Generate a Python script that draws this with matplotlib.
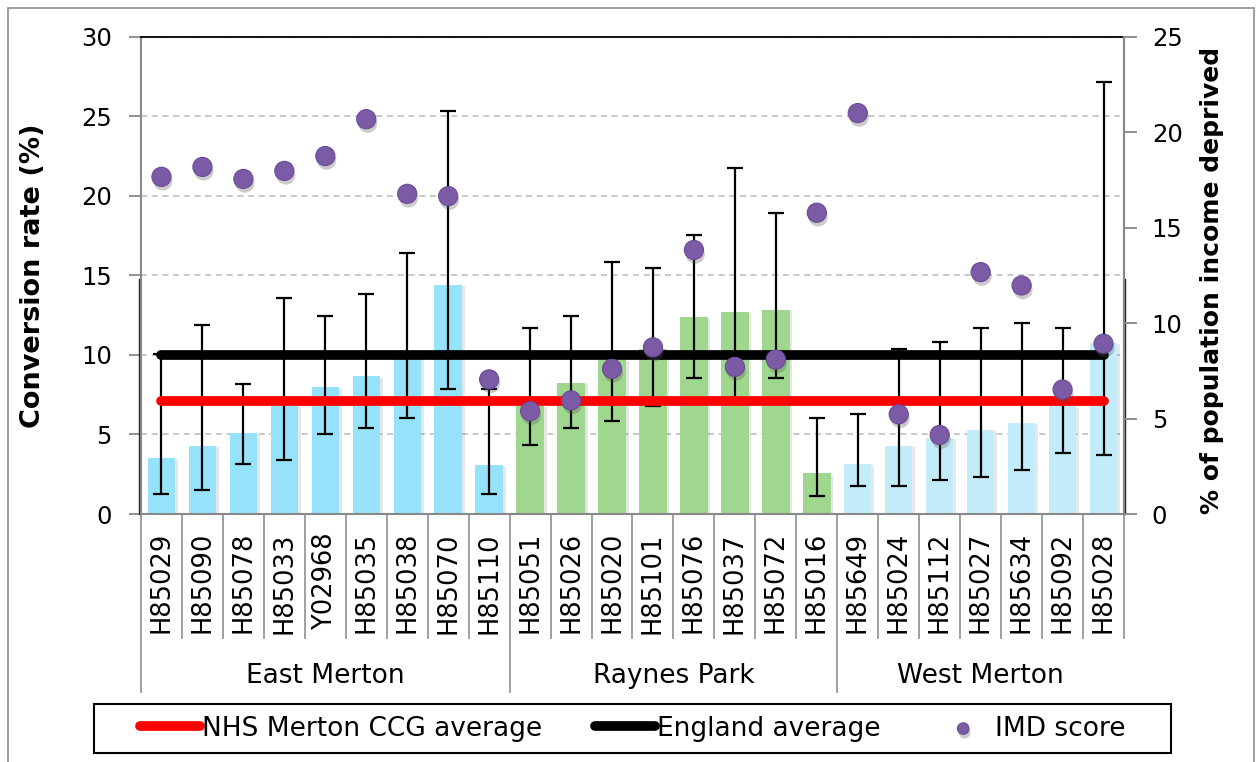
import numpy as np
import matplotlib
matplotlib.use("Agg")
import matplotlib.pyplot as plt
import matplotlib.patheffects as pe
from matplotlib.patches import Rectangle
from matplotlib.transforms import blended_transform_factory

# Practices grouped by locality
practices = ['H85029', 'H85090', 'H85078', 'H85033', 'Y02968', 'H85035', 'H85038', 'H85070', 'H85110',
             'H85051', 'H85026', 'H85020', 'H85101', 'H85076', 'H85037', 'H85072', 'H85016',
             'H85649', 'H85024', 'H85112', 'H85027', 'H85634', 'H85092', 'H85028']
localities = ['East Merton', 'Raynes Park', 'West Merton']
locality_sizes = [9, 8, 7]
locality_colors = ['#97E2FB', '#A0D78E', '#C2ECFA']

# Conversion rate (%) with confidence limits
conversion = [3.55, 4.28, 5.07, 6.8, 7.97, 8.66, 9.8, 14.4, 3.07,
              6.8, 8.25, 9.7, 10.37, 12.36, 12.67, 12.84, 2.57,
              3.17, 4.28, 4.8, 5.28, 5.74, 6.78, 10.75]
ci_low = [1.25, 1.52, 3.13, 3.4, 5.01, 5.43, 6.03, 7.83, 1.25,
          4.32, 5.43, 5.84, 6.78, 8.52, 7.3, 8.56, 1.15,
          1.73, 1.73, 2.13, 2.34, 2.76, 3.82, 3.72]
ci_high = [10.05, 11.9, 8.2, 13.6, 12.42, 13.82, 16.43, 25.32, 7.83,
           11.69, 12.42, 15.86, 15.45, 17.53, 21.77, 18.89, 6.03,
           6.3, 10.37, 10.79, 11.69, 12.0, 11.69, 27.14]

# % of population income deprived (right axis)
imd = [17.66, 18.18, 17.55, 17.97, 18.75, 20.68, 16.77, 16.65, 7.05,
       5.39, 5.95, 7.6, 8.73, 13.83, 7.71, 8.09, 15.78,
       21.0, 5.22, 4.14, 12.67, 11.97, 6.52, 8.92]

ccg_avg = 7.1
england_avg = 10.0

n = len(practices)
x = np.arange(n)
bar_colors = []
for c, size in zip(locality_colors, locality_sizes):
    bar_colors += [c] * size

conv = np.array(conversion)
yerr = [conv - np.array(ci_low), np.array(ci_high) - conv]

fig = plt.figure(figsize=(12.58, 7.62), dpi=100)
ax = fig.add_axes([141/1258, 1 - 514/762, 983/1258, 477.3/762])

ax.yaxis.grid(True, linestyle=(0, (4, 3)), color='#BBBBBB', linewidth=1.1)
ax.set_axisbelow(True)

bars = ax.bar(x, conversion, width=0.67, color=bar_colors, zorder=2)
for b in bars:
    b.set_path_effects([pe.SimplePatchShadow(offset=(2, -1), alpha=0.12), pe.Normal()])

ax.errorbar(x, conversion, yerr=yerr, fmt='none', ecolor='black', elinewidth=1.6,
            capsize=6, capthick=1.6, zorder=3)

l_ccg, = ax.plot([x[0], x[-1]], [ccg_avg, ccg_avg], color='#FF0000', linewidth=7,
                 solid_capstyle='round', zorder=4, label='NHS Merton CCG average')
l_eng, = ax.plot([x[0], x[-1]], [england_avg, england_avg], color='black', linewidth=7,
                 solid_capstyle='round', zorder=4, label='England average')

ax.set_xlim(-0.5, n - 0.5)
ax.set_ylim(0, 30)
ax.set_yticks(np.arange(0, 31, 5))
ax.set_xticks(x)
ax.set_xticklabels(practices, rotation=90, fontsize=18.5)
ax.tick_params(axis='x', length=0, pad=13)
ax.tick_params(axis='y', labelsize=17.5, length=9, color='#888888', width=1.3, pad=12)
for s in ['left', 'bottom', 'right']:
    ax.spines[s].set_color('#888888')
    ax.spines[s].set_linewidth(1.5)
ax.spines['top'].set_color('black')
ax.spines['top'].set_linewidth(1.3)
ax.set_ylabel('Conversion rate (%)', fontsize=19.5, fontweight='bold')
ax.yaxis.set_label_coords(-0.097, 0.5)

# darker inner axis segments of the bar plot area
edge = blended_transform_factory(ax.transAxes, ax.transData)
ax.plot([-1.6/983, -1.6/983], [0, 14.8], transform=edge, color='#222222', linewidth=1.0,
        clip_on=False, zorder=1)
ax.plot([1 + 1.2/983, 1 + 1.2/983], [0, 14.8], transform=edge, color='#222222', linewidth=1.0,
        clip_on=False, zorder=1)

# IMD score on the secondary axis
ax2 = ax.twinx()
dots = ax2.scatter(x, imd, s=190, color='#7B5AA6', edgecolors='#6B4A96', linewidths=0.8,
                   zorder=5, label='IMD score')
dots.set_path_effects([pe.SimplePatchShadow(offset=(1, -3), shadow_rgbFace='#555555', alpha=0.3),
                       pe.Normal()])
ax2.set_ylim(0, 25)
ax2.set_yticks(np.arange(0, 26, 5))
ax2.tick_params(axis='y', labelsize=17.5, length=9, color='#888888', width=1.3, pad=11)
for s in ['left', 'bottom', 'top']:
    ax2.spines[s].set_visible(False)
ax2.spines['right'].set_color('#888888')
ax2.spines['right'].set_linewidth(1.5)
ax2.set_ylabel('% of population income deprived', fontsize=18, fontweight='bold')
ax2.yaxis.set_label_coords(1.0773, 0.49)

# category separators and locality labels below the axis
trans = blended_transform_factory(ax.transData, ax.transAxes)
bounds = np.arange(n + 1) - 0.5
for b in bounds:
    ax.plot([b, b], [0, -0.26], transform=trans, color='#999999', linewidth=1.3,
            clip_on=False, zorder=1)
start = 0
for name, size in zip(localities, locality_sizes):
    ax.plot([start - 0.5, start - 0.5], [-0.26, -0.372], transform=trans, color='#999999',
            linewidth=1.3, clip_on=False)
    ax.text(start + (size - 1) / 2, -0.34, name, transform=trans, ha='center', va='center',
            fontsize=19)
    start += size

# legend in its own box
fig.patches.append(Rectangle((94/1258, 1 - 753/762), 1077/1258, 49/762, transform=fig.transFigure,
                             fill=False, edgecolor='black', linewidth=1.5))
fig.legend([l_ccg, l_eng, dots], ['NHS Merton CCG average', 'England average', 'IMD score'],
           loc='center', bbox_to_anchor=(0.5028, 1 - 728.5/762), ncol=3, frameon=False,
           fontsize=19, handlelength=2.3, handletextpad=0.05, columnspacing=2.0,
           markerscale=0.6)

# outer chart frame
fig.patches.append(Rectangle((8/1258, -0.05), 1246/1258, 1.05 - 8/762, transform=fig.transFigure,
                             fill=False, edgecolor='#999999', linewidth=1.3))

fig.savefig('out.png', dpi=100)
